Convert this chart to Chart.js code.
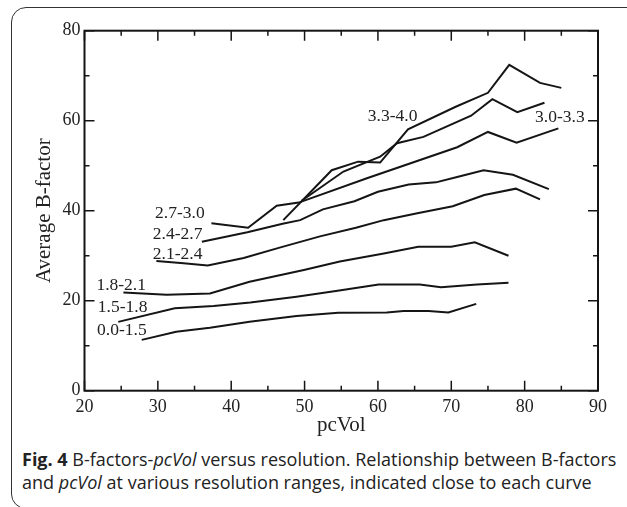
<!DOCTYPE html>
<html>
<head>
<meta charset="utf-8">
<script src="https://cdn.jsdelivr.net/npm/chart.js@4.4.1/dist/chart.umd.min.js"></script>
<style>
  html, body { margin: 0; padding: 0; background: #fff; }
  body { width: 627px; height: 507px; overflow: hidden; position: relative; }
  #frame {
    position: absolute; left: 11px; top: 7px; width: 660px; height: 500px;
    border: 1.5px solid #333; border-radius: 15px;
  }
  #wrap { position: absolute; left: 0; top: 0; width: 627px; height: 445px; }
  #caption {
    position: absolute; left: 22px; top: 448px; white-space: nowrap;
    font-family: "Open Sans", sans-serif; font-size: 18px; line-height: 23px; color: #222;
  }
  #caption b { font-weight: 700; }
</style>
</head>
<body>
<div id="frame"></div>
<div id="wrap"><canvas id="chart" width="627" height="445"></canvas></div>
<div id="caption"><b>Fig. 4</b> B-factors-<i>pcVol</i> versus resolution. Relationship between B-factors<br>and <i>pcVol</i> at various resolution ranges, indicated close to each curve</div>
<script>
(function () {
  "use strict";

  // resolution ranges, one curve each
  var ranges = ["0.0-1.5", "1.5-1.8", "1.8-2.1", "2.1-2.4", "2.4-2.7", "2.7-3.0", "3.0-3.3", "3.3-4.0"];

  var pcVol00 = [27.8, 32.5, 37.1, 42.5, 48.9, 54.6, 61.2, 63.5, 66.9, 69.6, 73.4];
  var bfac00 = [11.3, 13.1, 14.0, 15.3, 16.6, 17.3, 17.4, 17.7, 17.7, 17.4, 19.3];

  var pcVol15 = [24.6, 32.3, 37.6, 42.6, 48.9, 54.5, 60.1, 65.7, 68.6, 73.5, 77.8];
  var bfac15 = [15.3, 18.3, 18.8, 19.6, 20.9, 22.2, 23.6, 23.6, 23.0, 23.6, 24.0];

  var pcVol18 = [25.3, 31.2, 37.1, 42.5, 49.9, 54.8, 60.8, 65.5, 70.0, 73.2, 77.8];
  var bfac18 = [21.8, 21.3, 21.6, 24.2, 26.8, 28.7, 30.5, 32.0, 32.0, 33.0, 30.0];

  var pcVol21 = [29.8, 33.5, 36.8, 41.7, 46.6, 52.1, 57.0, 60.8, 65.2, 70.2, 74.5, 78.8, 82.1];
  var bfac21 = [28.8, 28.3, 27.8, 29.5, 31.8, 34.3, 36.2, 37.9, 39.4, 41.0, 43.5, 44.9, 42.5];

  var pcVol24 = [36.0, 42.2, 47.0, 49.4, 52.5, 56.8, 60.0, 64.2, 67.9, 70.8, 74.4, 78.4, 83.3];
  var bfac24 = [33.1, 35.2, 37.1, 37.9, 40.3, 42.1, 44.2, 45.8, 46.3, 47.5, 49.0, 48.0, 44.8];

  var pcVol27 = [37.3, 42.3, 46.2, 49.2, 58.5, 70.8, 75.0, 78.9, 84.6];
  var bfac27 = [37.2, 36.2, 41.1, 41.8, 47.2, 54.1, 57.5, 55.1, 58.3];

  var pcVol30 = [49.6, 55.3, 60.3, 62.6, 66.2, 72.7, 75.6, 79.0, 82.7];
  var bfac30 = [42.2, 48.7, 52.0, 55.0, 56.4, 61.1, 64.8, 61.9, 64.0];

  var pcVol33 = [47.1, 53.7, 57.3, 60.3, 64.1, 70.6, 75.0, 77.9, 82.1, 85.0];
  var bfac33 = [37.9, 49.0, 50.9, 50.7, 58.1, 63.1, 66.2, 72.4, 68.4, 67.3];

  var xSeries = [pcVol00, pcVol15, pcVol18, pcVol21, pcVol24, pcVol27, pcVol30, pcVol33];
  var ySeries = [bfac00, bfac15, bfac18, bfac21, bfac24, bfac27, bfac30, bfac33];

  // where each range name sits, in data units (centre of the text)
  var labelX = [25.1, 25.2, 25.0, 32.7, 32.7, 33.0, 84.8, 62.0];
  var labelY = [13.3, 18.5, 23.3, 30.2, 34.8, 39.3, 60.7, 61.0];

  var xTicks = [20, 30, 40, 50, 60, 70, 80, 90];
  var yTicks = [0, 20, 40, 60, 80];

  var SERIF = '"Liberation Serif", "Times New Roman", serif';
  var INK = "#151515";

  function points(xs, ys) {
    var out = [];
    for (var i = 0; i < xs.length; i++) out.push({ x: xs[i], y: ys[i] });
    return out;
  }

  var datasets = ranges.map(function (name, i) {
    return {
      label: name,
      data: points(xSeries[i], ySeries[i]),
      borderColor: INK,
      borderWidth: 2,
      pointRadius: 0,
      tension: 0,
      fill: false
    };
  });

  // box round the plot with inward ticks on all four sides
  var frameTicks = {
    id: "frameTicks",
    afterDraw: function (chart) {
      var c = chart.ctx;
      var a = chart.chartArea;
      var xs = chart.scales.x;
      var ys = chart.scales.y;
      var v, p, len;
      c.save();
      c.strokeStyle = INK;
      c.lineWidth = 2;
      c.strokeRect(a.left, a.top, a.right - a.left, a.bottom - a.top);
      c.lineWidth = 1.5;
      c.beginPath();
      for (v = xs.min; v <= xs.max; v += 5) {
        p = xs.getPixelForValue(v);
        len = v % 10 === 0 ? 10 : 5;
        c.moveTo(p, a.bottom); c.lineTo(p, a.bottom - len);
        c.moveTo(p, a.top); c.lineTo(p, a.top + len);
      }
      for (v = ys.min; v <= ys.max; v += 10) {
        p = ys.getPixelForValue(v);
        len = v % 20 === 0 ? 10 : 5;
        c.moveTo(a.left, p); c.lineTo(a.left + len, p);
        c.moveTo(a.right, p); c.lineTo(a.right - len, p);
      }
      c.stroke();

      c.fillStyle = "#222";
      c.font = "17.5px " + SERIF;
      c.textAlign = "center";
      c.textBaseline = "middle";
      for (var i = 0; i < ranges.length; i++) {
        c.fillText(ranges[i], xs.getPixelForValue(labelX[i]), ys.getPixelForValue(labelY[i]));
      }
      c.restore();
    }
  };

  new Chart(document.getElementById("chart").getContext("2d"), {
    type: "line",
    data: { datasets: datasets },
    options: {
      responsive: false,
      animation: false,
      parsing: false,
      layout: { padding: { top: 30.7, right: 29, bottom: 0, left: 0 } },
      plugins: { legend: { display: false }, tooltip: { enabled: false } },
      scales: {
        x: {
          type: "linear",
          min: 20,
          max: 90,
          afterBuildTicks: function (s) { s.ticks = xTicks.map(function (v) { return { value: v }; }); },
          afterFit: function (s) { s.height = 54.3; },
          grid: { display: false, drawTicks: false },
          border: { display: false },
          ticks: { color: "#222", font: { family: SERIF, size: 18 }, padding: 6, maxRotation: 0 },
          title: {
            display: true, text: "pcVol", color: "#222",
            font: { family: SERIF, size: 21, lineHeight: 1 },
            padding: { top: 0, bottom: 9.5 }
          }
        },
        y: {
          type: "linear",
          min: 0,
          max: 80,
          afterBuildTicks: function (s) { s.ticks = yTicks.map(function (v) { return { value: v }; }); },
          afterFit: function (s) { s.width = 84.5; },
          grid: { display: false, drawTicks: false },
          border: { display: false },
          ticks: { color: "#222", font: { family: SERIF, size: 18 }, padding: 4 },
          title: {
            display: true, text: "Average B-factor", color: "#222",
            font: { family: SERIF, size: 21, lineHeight: 1 },
            padding: { top: 33.5, bottom: 0 }
          }
        }
      }
    },
    plugins: [frameTicks]
  });
})();
</script>
</body>
</html>
